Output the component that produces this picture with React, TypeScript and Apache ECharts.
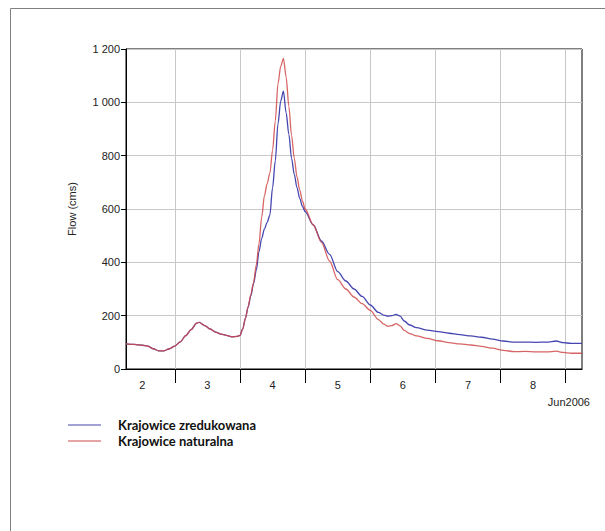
import React, { useEffect, useRef } from "react";
import * as echarts from "echarts";

// hours since 2006-06-02 00:00
const hours = [6, 9, 12, 14, 16, 18, 20, 22, 24, 26, 28, 30, 32, 33, 35, 37, 39, 41, 43, 45, 47, 48, 49, 50, 51, 52, 53, 54, 55, 56, 57, 58, 59, 60, 61, 62, 63, 64, 65, 66, 67, 68, 69, 70, 71, 72, 75, 78, 81, 84, 87, 90, 93, 96, 99, 101, 102.5, 104, 105.5, 107, 108.5, 110.5, 113, 117, 121, 125, 129, 133, 137, 141, 145, 149, 153, 157, 161, 164.5, 167, 170, 174];

const zredukowana = [94, 92, 89, 86, 76, 68, 68, 76, 86, 102, 125, 148, 172, 175, 163, 150, 138, 131, 126, 121, 122, 126, 150, 190, 232, 275, 320, 370, 440, 490, 525, 550, 577, 680, 780, 920, 1005, 1042, 960, 880, 790, 730, 680, 640, 610, 590, 540, 480, 430, 365, 330, 300, 272, 240, 212, 202, 198, 200, 205, 198, 180, 165, 155, 146, 140, 134, 129, 124, 119, 112, 105, 101, 101, 100, 101, 105, 99, 96, 96];

const naturalna = [94, 92, 89, 86, 76, 68, 68, 76, 86, 102, 125, 148, 172, 175, 163, 150, 138, 131, 126, 121, 122, 126, 150, 190, 235, 280, 325, 390, 470, 570, 650, 695, 734, 820, 930, 1070, 1135, 1165, 1095, 985, 875, 790, 720, 672, 630, 600, 540, 475, 405, 335, 300, 270, 245, 220, 185, 168, 160, 163, 170, 162, 145, 133, 124, 115, 106, 99, 94, 90, 85, 78, 70, 65, 66, 64, 64, 67, 62, 59, 59];

const dayTicks = [24, 48, 72, 96, 120, 144, 168];
const dayLabelPos = [12, 36, 60, 84, 108, 132, 156];
const dayLabels = ["2", "3", "4", "5", "6", "7", "8"];
const monthLabel = "Jun2006";
const seriesNames = ["Krajowice zredukowana", "Krajowice naturalna"];
const yAxisName = "Flow (cms)";

export default function App() {
  const ref = useRef<HTMLDivElement>(null);
  useEffect(() => {
    document.body.style.margin = "0";
    const chart = echarts.init(ref.current!, null, { renderer: "svg" });
    const font = "Liberation Sans, Arial, sans-serif";
    chart.setOption({
      animation: false,
      backgroundColor: "#fff",
      grid: {
        left: 126,
        top: 49,
        right: 23,
        bottom: 162,
        show: true,
        borderColor: "#000",
        borderWidth: 1,
      },
      legend: {
        orient: "vertical",
        left: 68,
        top: 418,
        padding: 0,
        itemGap: 2,
        itemWidth: 33,
        itemHeight: 1.2,
        icon: "rect",
        textStyle: {
          fontFamily: "Lato, sans-serif",
          fontWeight: "bold",
          fontSize: 13,
          color: "#111",
          padding: [0, 0, 0, 12],
          lineHeight: 14,
        },
        data: seriesNames,
      },
      xAxis: {
        type: "value",
        min: 6,
        max: 174,
        axisLine: { show: true, lineStyle: { color: "#000", width: 1 } },
        axisTick: {
          show: true,
          customValues: dayTicks,
          length: 14,
          lineStyle: { color: "#000" },
        },
        axisLabel: {
          customValues: dayLabelPos,
          formatter: (v: number) => dayLabels[dayLabelPos.indexOf(v)] ?? "",
          margin: 10,
          fontFamily: font,
          fontSize: 11,
          color: "#222",
        },
        splitLine: { show: true, lineStyle: { color: "#c8c8c8", width: 1 } },
      },
      yAxis: {
        type: "value",
        min: 0,
        max: 1200,
        interval: 200,
        name: yAxisName,
        nameLocation: "middle",
        nameGap: 49,
        nameTextStyle: { fontFamily: font, fontSize: 11, color: "#222" },
        axisLine: { show: true, lineStyle: { color: "#000" } },
        axisTick: { show: true, length: 5, lineStyle: { color: "#000" } },
        axisLabel: {
          margin: 6,
          fontFamily: font,
          fontSize: 11,
          color: "#222",
          formatter: (v: number) => String(v).replace(/\B(?=(\d{3})+(?!\d))/g, " "),
        },
        splitLine: { show: true, lineStyle: { color: "#c8c8c8", width: 1 } },
      },
      series: [
        {
          name: seriesNames[0],
          type: "line",
          data: hours.map((h, i) => [h, zredukowana[i]]),
          showSymbol: false,
          smooth: 0.3,
          smoothMonotone: "x",
          lineStyle: { color: "#4646b0", width: 1.3 },
          itemStyle: { color: "#4646b0" },
        },
        {
          name: seriesNames[1],
          type: "line",
          data: hours.map((h, i) => [h, naturalna[i]]),
          showSymbol: false,
          smooth: 0.3,
          smoothMonotone: "x",
          lineStyle: { color: "#d04a4a", width: 1.3, opacity: 0.85 },
          itemStyle: { color: "#d04a4a" },
        },
      ],
      graphic: [
        {
          type: "line",
          shape: { x1: 10.5, y1: 8.5, x2: 605, y2: 8.5 },
          style: { stroke: "#808080", lineWidth: 1 },
        },
        {
          type: "line",
          shape: { x1: 10.5, y1: 8.5, x2: 10.5, y2: 531 },
          style: { stroke: "#808080", lineWidth: 1 },
        },
        {
          type: "text",
          x: 590,
          y: 402,
          style: {
            text: monthLabel,
            font: "11px Liberation Sans, Arial, sans-serif",
            fill: "#222",
            textAlign: "right",
            textVerticalAlign: "middle",
          },
        },
      ],
    });
    return () => chart.dispose();
  }, []);
  return <div ref={ref} style={{ width: 605, height: 531 }} />;
}
